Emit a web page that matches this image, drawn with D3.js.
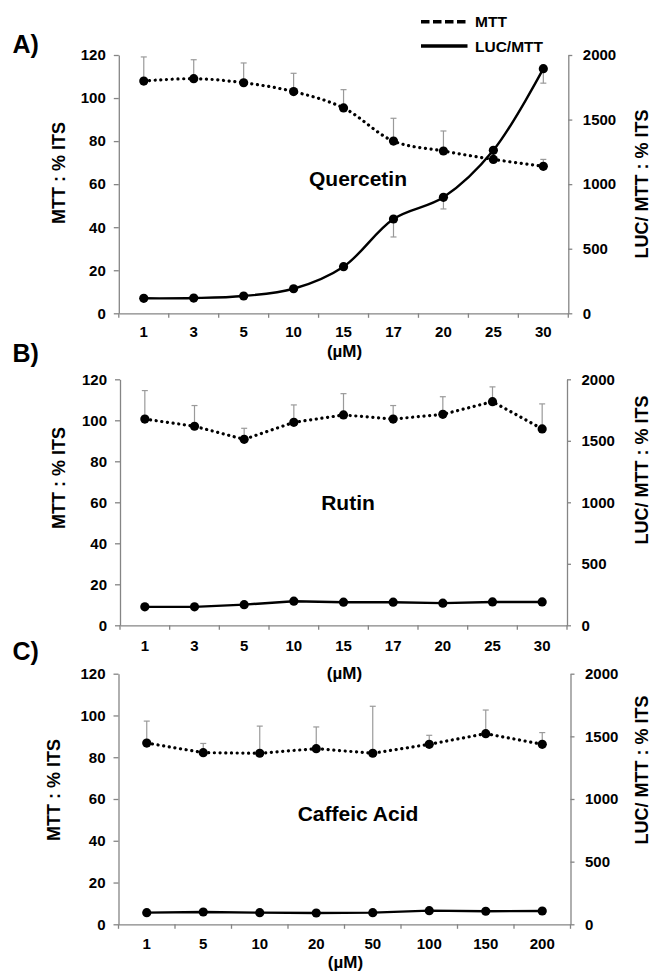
<!DOCTYPE html>
<html>
<head>
<meta charset="utf-8">
<script src="https://cdn.jsdelivr.net/npm/d3@7"></script>
<style>
  html, body { margin: 0; padding: 0; background: #fff; }
  svg { display: block; }
  text { font-family: "Liberation Sans", Arial, sans-serif; font-weight: bold; fill: #000; }
</style>
</head>
<body>
<svg id="chart" width="653" height="971"></svg>
<script>
// ---- data ----
var quercetinDoses = ["1", "3", "5", "10", "15", "17", "20", "25", "30"];
var quercetinMtt = [107.9, 109, 107.1, 103, 95.4, 80, 75.4, 71.5, 68.3];
var quercetinMttErr = [11.2, 8.8, 9.2, 8.5, 8.5, 10.6, 9.3, 1, 3.2];
var quercetinLuc = [116, 118, 134, 190, 361, 730, 898, 1262, 1894];
var quercetinLucErr = [8, 8, 8, 10, 15, 139, 90, 20, 112];

var rutinDoses = ["1", "3", "5", "10", "15", "17", "20", "25", "30"];
var rutinMtt = [100.6, 97.1, 90.7, 99.0, 102.6, 100.6, 102.9, 109.1, 95.8];
var rutinMttErr = [13.9, 10.1, 5.4, 8.5, 10.4, 6.6, 8.6, 7.2, 12.2];
var rutinLuc = [150, 150, 168, 196, 188, 188, 180, 190, 190];
var rutinLucErr = [5, 5, 5, 5, 5, 5, 5, 5, 5];

var caffeicDoses = ["1", "5", "10", "20", "50", "100", "150", "200"];
var caffeicMtt = [86.8, 82.2, 81.9, 84.1, 81.9, 86.2, 91.3, 86.2];
var caffeicMttErr = [10.5, 4.4, 13.0, 10.4, 22.5, 4.3, 11.3, 5.6];
var caffeicLuc = [93, 98, 93, 90, 93, 109, 104, 106];
var caffeicLucErr = [5, 5, 5, 5, 5, 5, 5, 5];

var mttTicks = [0, 20, 40, 60, 80, 100, 120];
var lucTicks = [0, 500, 1000, 1500, 2000];

var svg = d3.select("#chart");
var axisColor = "#858585";
var errColor = "#9a9a9a";

// panels: layout + which data
var panels = [
  { letter: "A)", name: "Quercetin", doses: quercetinDoses, mtt: quercetinMtt, mttErr: quercetinMttErr,
    luc: quercetinLuc, lucErr: quercetinLucErr, smooth: true,
    left: 118.8, right: 568.3, top: 55, bottom: 313.3,
    letterY: 53.3, nameX: 358, nameY: 186, tickY: 337, unitY: 357,
    leftTitle: [58.5, 173], rightTitle: [642, 184] },
  { letter: "B)", name: "Rutin", doses: rutinDoses, mtt: rutinMtt, mttErr: rutinMttErr,
    luc: rutinLuc, lucErr: rutinLucErr, smooth: false,
    left: 120, right: 567, top: 379.3, bottom: 625.3,
    letterY: 362, nameX: 348, nameY: 510, tickY: 651, unitY: 679,
    leftTitle: [58.5, 478], rightTitle: [642, 470] },
  { letter: "C)", name: "Caffeic Acid", doses: caffeicDoses, mtt: caffeicMtt, mttErr: caffeicMttErr,
    luc: caffeicLuc, lucErr: caffeicLucErr, smooth: false,
    left: 118.5, right: 570.5, top: 673.7, bottom: 924.3,
    letterY: 660, nameX: 358, nameY: 821, tickY: 949.5, unitY: 968,
    leftTitle: [53.5, 790], rightTitle: [642, 770] }
];

panels.forEach(function (p) {
  var g = svg.append("g");
  var x = d3.scaleBand().domain(p.doses).range([p.left, p.right]).padding(0);
  var yL = d3.scaleLinear().domain([0, 120]).range([p.bottom, p.top]);
  var yR = d3.scaleLinear().domain([0, 2000]).range([p.bottom, p.top]);

  // left axis
  var axL = g.append("g").attr("transform", "translate(" + p.left + ",0)")
    .call(d3.axisLeft(yL).tickValues(mttTicks).tickSize(5).tickSizeOuter(0).tickPadding(8));
  // right axis
  var axR = g.append("g").attr("transform", "translate(" + p.right + ",0)")
    .call(d3.axisRight(yR).tickValues(lucTicks).tickFormat(d3.format("d"))
      .tickSize(4).tickSizeOuter(0).tickPadding(10.5));
  // bottom axis: labels at band centres
  var axB = g.append("g").attr("transform", "translate(0," + p.bottom + ")")
    .call(d3.axisBottom(x).tickSize(0).tickSizeOuter(0));
  // boundary tick marks
  var bounds = p.doses.map(function (d) { return x(d); }).concat([p.right]);
  g.append("g").selectAll("line").data(bounds).join("line")
    .attr("x1", function (d) { return d; }).attr("x2", function (d) { return d; })
    .attr("y1", p.bottom).attr("y2", p.bottom + 4.5)
    .attr("stroke", axisColor).attr("stroke-width", 1.3);

  [axL, axR, axB].forEach(function (a) {
    a.selectAll("path.domain").attr("stroke", axisColor).attr("stroke-width", 1.3);
    a.selectAll(".tick line").attr("stroke", axisColor).attr("stroke-width", 1.3);
    a.selectAll(".tick text").attr("font-size", 15).attr("font-family", null).attr("fill", "#000");
  });
  axB.selectAll(".tick text").attr("dy", null).attr("y", p.tickY - p.bottom);

  // x-axis title
  g.append("text").attr("x", (p.left + p.right) / 2 + 1).attr("y", p.unitY)
    .attr("text-anchor", "middle").attr("font-size", 17).text("(\u00b5M)");

  // y titles
  g.append("text").attr("transform", "translate(" + p.leftTitle[0] + "," + p.leftTitle[1] + ") rotate(-90)")
    .attr("text-anchor", "middle").attr("dy", "0.36em").attr("font-size", 18).text("MTT : % ITS");
  g.append("text").attr("transform", "translate(" + p.rightTitle[0] + "," + p.rightTitle[1] + ") rotate(-90)")
    .attr("text-anchor", "middle").attr("dy", "0.36em").attr("font-size", 18).text("LUC/ MTT : % ITS");

  // panel letter and compound name
  g.append("text").attr("x", 12.5).attr("y", p.letterY).attr("font-size", 25).text(p.letter);
  g.append("text").attr("x", p.nameX).attr("y", p.nameY).attr("text-anchor", "middle")
    .attr("font-size", 21).text(p.name);

  var cx = function (i) { return x(p.doses[i]) + x.bandwidth() / 2; };
  var idx = d3.range(p.doses.length);

  // error bars: MTT upward, LUC downward
  var errs = g.append("g").attr("stroke", errColor).attr("stroke-width", 1.2).attr("fill", "none");
  idx.forEach(function (i) {
    var y0 = yL(p.mtt[i]), y1 = yL(p.mtt[i] + p.mttErr[i]);
    errs.append("line").attr("x1", cx(i)).attr("x2", cx(i)).attr("y1", y0).attr("y2", y1);
    errs.append("line").attr("x1", cx(i) - 3).attr("x2", cx(i) + 3).attr("y1", y1).attr("y2", y1);
    var z0 = yR(p.luc[i]), z1 = yR(p.luc[i] - p.lucErr[i]);
    errs.append("line").attr("x1", cx(i)).attr("x2", cx(i)).attr("y1", z0).attr("y2", z1);
    errs.append("line").attr("x1", cx(i) - 3).attr("x2", cx(i) + 3).attr("y1", z1).attr("y2", z1);
  });

  var curve = p.smooth ? d3.curveCatmullRom.alpha(0.5) : d3.curveLinear;
  var mttLine = d3.line().x(function (i) { return cx(i); }).y(function (i) { return yL(p.mtt[i]); }).curve(curve);
  var lucLine = d3.line().x(function (i) { return cx(i); }).y(function (i) { return yR(p.luc[i]); }).curve(curve);

  g.append("path").attr("d", mttLine(idx)).attr("fill", "none").attr("stroke", "#000")
    .attr("stroke-width", 3.2).attr("stroke-linecap", "round").attr("stroke-dasharray", "0.1 5.6");
  g.append("path").attr("d", lucLine(idx)).attr("fill", "none").attr("stroke", "#000")
    .attr("stroke-width", 2.4);

  g.append("g").selectAll("circle.mtt").data(idx).join("circle")
    .attr("cx", cx).attr("cy", function (i) { return yL(p.mtt[i]); }).attr("r", 4.6).attr("fill", "#000");
  g.append("g").selectAll("circle.luc").data(idx).join("circle")
    .attr("cx", cx).attr("cy", function (i) { return yR(p.luc[i]); }).attr("r", 4.6).attr("fill", "#000");
});

// legend
var legend = svg.append("g");
legend.append("line").attr("x1", 421).attr("x2", 467.5).attr("y1", 21.7).attr("y2", 21.7)
  .attr("stroke", "#000").attr("stroke-width", 3.5).attr("stroke-dasharray", "8.5 3.5");
legend.append("line").attr("x1", 421).attr("x2", 467.5).attr("y1", 46).attr("y2", 46)
  .attr("stroke", "#000").attr("stroke-width", 3.5);
legend.append("text").attr("x", 475).attr("y", 27.3).attr("font-size", 15.5).text("MTT");
legend.append("text").attr("x", 475).attr("y", 51.6).attr("font-size", 15.5).text("LUC/MTT");
</script>
</body>
</html>
